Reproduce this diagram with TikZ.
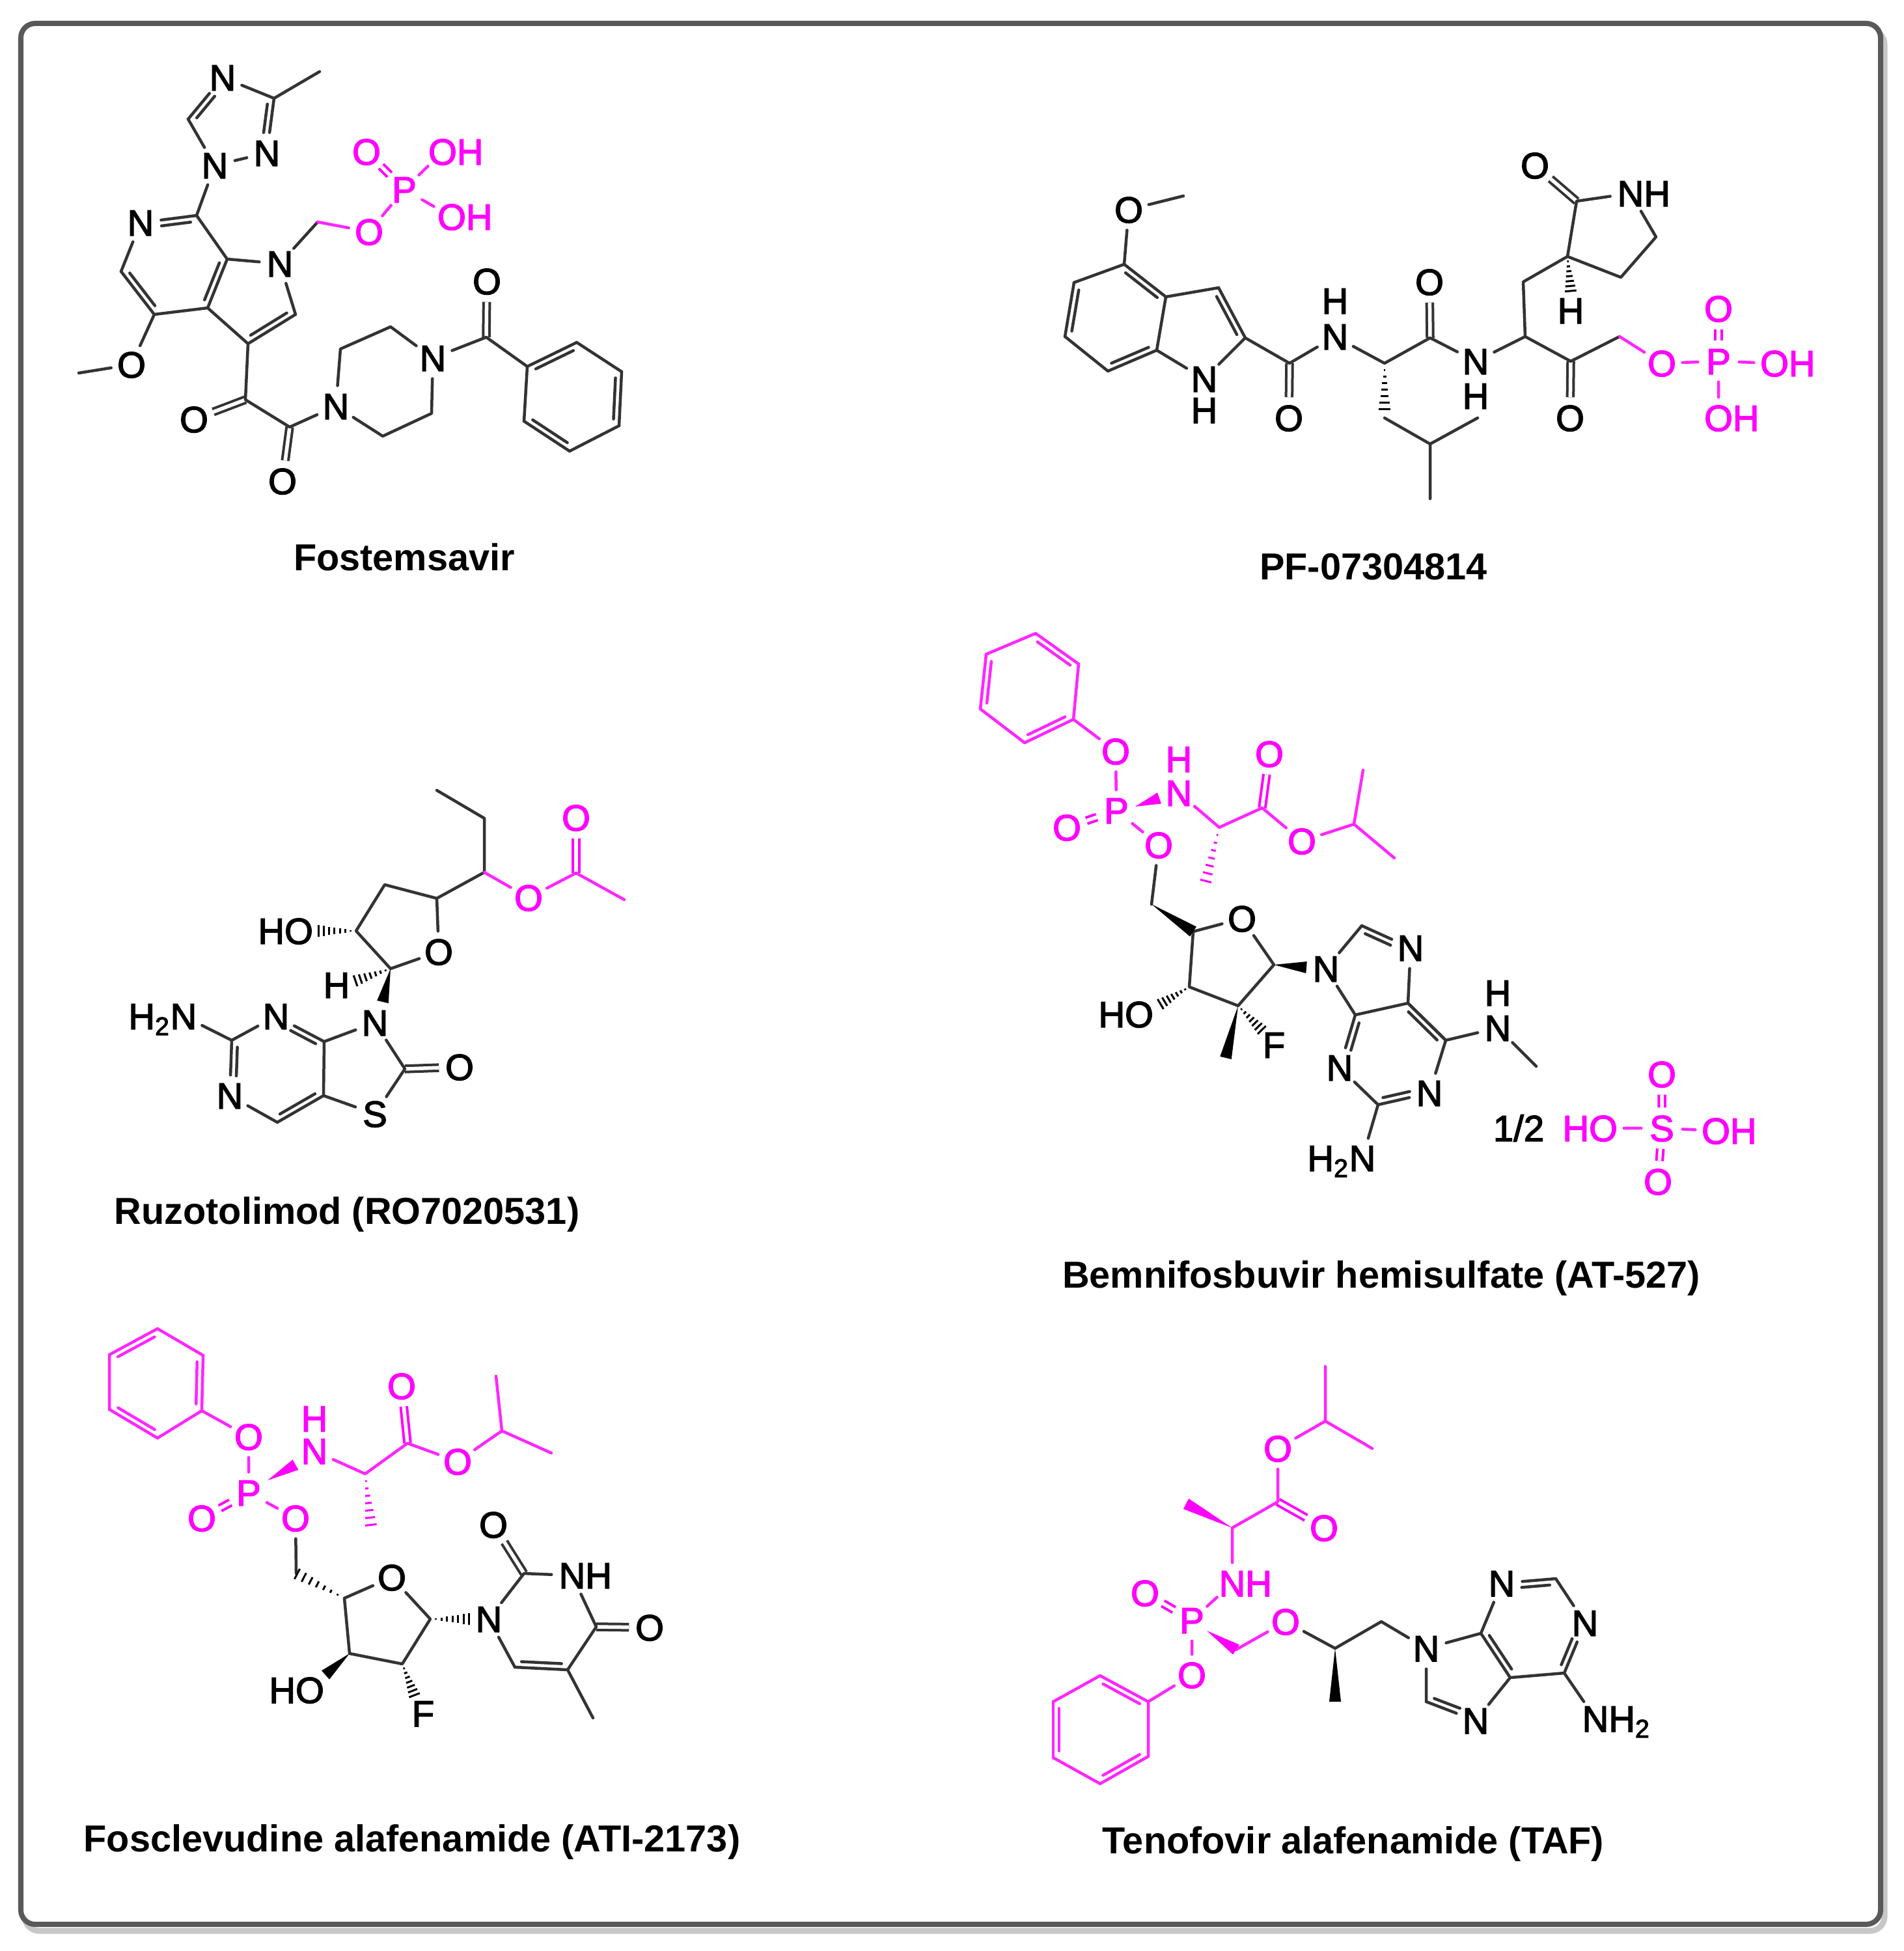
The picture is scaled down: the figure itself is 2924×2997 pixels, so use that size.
\documentclass[tikz,border=0pt]{standalone}
\usepackage{fontspec}
\setmainfont{Liberation Sans}
\newfontfamily\atomfam[FakeBold=2.5]{Liberation Sans}
\usetikzlibrary{calc}
\definecolor{mg}{HTML}{FF00FF}
\newcommand{\rdb}[5][bond]{\draw[#1] (#2)--(#3);
  \draw[#1] ($(#2)!#4!(#3)!.09cm!90:(#3)$)--($(#3)!#5!(#2)!-.09cm!90:(#2)$);}
\newcommand{\solidw}[3][black]{\fill[#1] (#2)--($(#3)!.09cm!90:(#2)$)--($(#3)!.09cm!-90:(#2)$)--cycle;}
\newcommand{\hashw}[3][black]{\foreach \hh in {.14,.28,...,1.01}
  \draw[#1,line width=.03cm] ($(#2)!\hh!(#3)!\hh*.09cm!90:(#2)$)--($(#2)!\hh!(#3)!\hh*.09cm!-90:(#2)$);}
\tikzset{
  atom/.style={circle,inner sep=0pt,minimum size=.62cm,text height=.40cm,text depth=0pt,font=\fontsize{16}{18}\selectfont\atomfam},
  patom/.style={atom,text=mg},
  bond/.style={line width=.045cm,draw=black!80,line cap=round,line join=round},
  pbond/.style={bond,draw=mg!85!white},
  dbl/.style={bond,double,double distance=.055cm,line width=.04cm,line cap=butt},
  pdbl/.style={dbl,draw=mg},
  caption/.style={font=\fontsize{16.4}{18}\selectfont\bfseries}
}
\begin{document}
\begin{tikzpicture}[x=.01cm,y=-.01cm]
\useasboundingbox (0,0) rectangle (2924,2997);
\fill[white] (0,0) rectangle (2924,2997);
\draw[black!22,line width=.09cm,rounded corners=.22cm] (38,46) rectangle (2895,2966);
\draw[black!65,line width=.08cm,fill=white,rounded corners=.22cm] (32,36) rectangle (2889,2956);

% Fostemsavir
\path (421,151) coordinate (ftc) (491,110) coordinate (ftm) (289,183) coordinate (fth)
 (302,331) coordinate (fc7) (186,417) coordinate (fc6) (237,483) coordinate (fc4) (319,473) coordinate (fc3a)
 (349,398) coordinate (fc7a) (454,483) coordinate (fc2) (381,528) coordinate (fc3) (121,573) coordinate (fme)
 (377,614) coordinate (fk1) (445,656) coordinate (fk2) (523,536) coordinate (fpz1) (600,502) coordinate (fpz2)
 (663,635) coordinate (fpz3) (588,670) coordinate (fpz4) (747,518) coordinate (fk3) (488,341) coordinate (fch)
 (810,563) coordinate (fp1) (886,526) coordinate (fp2) (955,571) coordinate (fp3) (951,654) coordinate (fp4)
 (875,693) coordinate (fp5) (805,647) coordinate (fp6);
\path (342,119) node[atom] (ftn4) {N} (410,235) node[atom] (ftn2) {N} (330,254) node[atom] (ftn1) {N}
 (216,342) node[atom] (fnp) {N} (430,405) node[atom] (fn1) {N} (202,560) node[atom] (fom) {O}
 (298,644) node[atom] (fo1) {O} (434,739) node[atom] (fo2) {O} (516,624) node[atom] (fn2) {N}
 (665,550) node[atom] (fn3) {N} (748,432) node[atom] (fo3) {O};
\path (567,356) node[patom] (foc) {O} (621,291) node[patom] (fpp) {P} (563,233) node[patom] (fod) {O}
 (680,233) node[patom] (foh1) {O\rlap{H}} (694,333) node[patom] (foh2) {O\rlap{H}};
\draw[dbl] (fk1)--(fo1) (fk2)--(fo2) (fk3)--(fo3);
\draw[pdbl] (fpp)--(fod);
\draw[bond] (ftm)--(ftc)--(ftn4) (fth)--(ftn1)--(ftn2) (ftn1)--(fc7)--(fc7a)--(fn1)--(fc2) (fc6)--(fnp) (fc4)--(fc3a)--(fc3)
 (fc4)--(fom)--(fme) (fc3)--(fk1)--(fk2)--(fn2)--(fpz1)--(fpz2)--(fn3)--(fpz3)--(fpz4)--(fn2) (fn3)--(fk3)--(fp1)
 (fp1)--(fp6) (fp5)--(fp4) (fp3)--(fp2) (fn1)--(fch);
\draw[pbond] (fch)--(foc)--(fpp)--(foh1) (fpp)--(foh2);
\rdb{ftn4}{fth}{.36}{.12} \rdb{ftn2}{ftc}{.36}{.12} \rdb{fc7}{fnp}{.12}{.36} \rdb{fc6}{fc4}{.12}{.12}
\rdb{fc3a}{fc7a}{.12}{.12} \rdb{fc3}{fc2}{.12}{.12} \rdb{fp2}{fp1}{.12}{.12} \rdb{fp6}{fp5}{.12}{.12} \rdb{fp4}{fp3}{.12}{.12}
\node[caption] (fname) at (621,856) {Fostemsavir};

% PF-07304814
\path (1818,301) coordinate (gme) (1727,406) coordinate (gc4) (1650,434) coordinate (gc5) (1636,517) coordinate (gc6)
 (1702,570) coordinate (gc7) (1777,538) coordinate (gc7a) (1791,456) coordinate (gc3a) (1872,442) coordinate (gc3)
 (1913,519) coordinate (gc2) (1981,558) coordinate (gk1) (2127,558) coordinate (gca) (2197,519) coordinate (gk2)
 (2343,517) coordinate (gcb) (2340,433) coordinate (gch) (2408,394) coordinate (gl3) (2422,309) coordinate (gl2)
 (2544,364) coordinate (gl5) (2490,426) coordinate (gl4) (2413,555) coordinate (gk3) (2488,517) coordinate (gcc)
 (2127,642) coordinate (gib) (2197,682) coordinate (gic) (2270,642) coordinate (gim1) (2197,766) coordinate (gim2)
 (2127,630) coordinate (ghe1) (2413,448) coordinate (ghe2);
\path (1734,322) node[atom] (gom) {O} (1850,582) node[atom] (gni) {N} (1850,630) node[atom] (gnih) {H}
 (1980,642) node[atom] (go1) {O} (2051,517) node[atom] (gn1) {N} (2051,462) node[atom] (gn1h) {H}
 (2196,433) node[atom] (go2) {O} (2267,555) node[atom] (gn2) {N} (2267,608) node[atom] (gn2h) {H}
 (2358,254) node[atom] (glo) {O} (2505,297) node[atom] (gln) {N\rlap{H}} (2413,477) node[atom] (ghh) {H}
 (2412,642) node[atom] (go3) {O};
\path (2553,558) node[patom] (goc) {O} (2640,555) node[patom] (gpp) {P} (2640,474) node[patom] (god) {O}
 (2726,558) node[patom] (goh1) {O\rlap{H}} (2640,642) node[patom] (goh2) {O\rlap{H}};
\draw[dbl] (gk1)--(go1) (gk2)--(go2) (gl2)--(glo) (gk3)--(go3);
\draw[pdbl] (gpp)--(god);
\draw[bond] (gme)--(gom)--(gc4) (gc4)--(gc5) (gc6)--(gc7) (gc7a)--(gc3a) (gc3a)--(gc3) (gc7a)--(gni)--(gc2) (gc2)--(gk1)--(gn1)--(gca)--(gk2)--(gn2)--(gcb)--(gch)--(gl3)--(gl2)--(gln)--(gl5)--(gl4)--(gl3)
 (gcb)--(gk3)--(gcc) (gib)--(gic)--(gim1) (gic)--(gim2);
\draw[pbond] (gcc)--(goc)--(gpp)--(goh1) (gpp)--(goh2);
\rdb{gc3a}{gc4}{.12}{.12} \rdb{gc5}{gc6}{.12}{.12} \rdb{gc7}{gc7a}{.12}{.12} \rdb{gc2}{gc3}{.12}{.12}
\hashw{gca}{ghe1} \hashw{gl3}{ghe2}
\node[caption] (gname) at (2110,871) {PF-07304814};

% Ruzotolimod
\path (671,1214) coordinate (rme) (744,1257) coordinate (rch) (744,1340) coordinate (rcx) (671,1380) coordinate (rs5)
 (591,1359) coordinate (rs4) (547,1430) coordinate (rs3) (600,1488) coordinate (rs1) (885,1341) coordinate (rk)
 (959,1382) coordinate (rkm) (356,1598) coordinate (rc2) (426,1724) coordinate (rc4) (497,1683) coordinate (rc7a)
 (498,1600) coordinate (rc3a) (622,1642) coordinate (rk2) (488,1430) coordinate (rhe1) (545,1507) coordinate (rhe2)
 (588,1539) coordinate (rwe);
\path (459,1430) node[atom] (roh) {\llap{H}O} (674,1462) node[atom] (ros) {O} (517,1513) node[atom] (rhh) {H}
 (576,1571) node[atom] (rn3) {N} (424,1561) node[atom] (rn1) {N} (282,1561) node[atom] (rnh) {\llap{H\textsubscript{2}}N}
 (353,1683) node[atom] (rn2) {N} (576,1711) node[atom] (rss) {S} (706,1639) node[atom] (ro2) {O};
\path (812,1379) node[patom] (roa) {O} (885,1256) node[patom] (rod) {O};
\draw[dbl] (rk2)--(ro2);
\draw[pdbl] (rk)--(rod);
\draw[bond] (rme)--(rch)--(rcx)--(rs5)--(rs4)--(rs3)--(rs1)--(ros)--(rs5) (rnh)--(rc2)--(rn1) (rn2)--(rc4) (rc7a)--(rc3a) (rc3a)--(rn3)--(rk2)--(rss)--(rc7a);
\draw[pbond] (rcx)--(roa)--(rk)--(rkm);
\rdb{rc3a}{rn1}{.12}{.36} \rdb{rc2}{rn2}{.12}{.36} \rdb{rc4}{rc7a}{.12}{.12}
\hashw{rs3}{rhe1} \hashw{rs1}{rhe2} \solidw{rs1}{rwe}
\node[caption] (rname) at (533,1866) {Ruzotolimod (RO7020531)};

% Bemnifosbuvir hemisulfate
\path (1591,973) coordinate (bp1) (1657,1020) coordinate (bp2) (1649,1105) coordinate (bp3) (1574,1141) coordinate (bp4)
 (1506,1089) coordinate (bp5) (1515,1005) coordinate (bp6) (1873,1271) coordinate (bca) (1939,1241) coordinate (bk)
 (2080,1266) coordinate (bip) (2094,1183) coordinate (bim1) (2142,1318) coordinate (bim2) (1852,1355) coordinate (bhe1)
 (1744,1239) coordinate (bwe1) (1781,1226) coordinate (bwe2) (1769,1389) coordinate (bch) (1833,1431) coordinate (bs4)
 (1957,1482) coordinate (bs1) (1902,1545) coordinate (bs2) (1827,1516) coordinate (bs3) (1782,1543) coordinate (bhe2)
 (1939,1583) coordinate (bhe3) (1883,1625) coordinate (bme) (2007,1486) coordinate (bwe3) (2092,1422) coordinate (bc8)
 (2163,1541) coordinate (bc5) (2082,1559) coordinate (bc4) (2117,1697) coordinate (bc2) (2221,1598) coordinate (bc6)
 (2360,1638) coordinate (bnm);
\path (1908,1411) node[atom] (bos) {O} (1750,1558) node[atom] (boh) {\llap{H}O} (1957,1605) node[atom] (bff) {F}
 (2037,1488) node[atom] (bn9) {N} (2167,1456) node[atom] (bn7) {N} (2058,1640) node[atom] (bn3) {N}
 (2196,1679) node[atom] (bn1) {N} (2301,1579) node[atom] (bnh) {N} (2301,1525) node[atom] (bnhh) {H}
 (2093,1779) node[atom] (bnt) {\llap{H\textsubscript{2}}N} (2333,1733) node[atom] (bhalf) {1/2};
\path (1714,1154) node[patom] (bop) {O} (1715,1245) node[patom] (bpp) {P} (1639,1271) node[patom] (bod) {O}
 (1811,1218) node[patom] (bnn) {N} (1811,1166) node[patom] (bnnh) {H} (1950,1158) node[patom] (bok) {O}
 (2000,1292) node[patom] (boe) {O} (1780,1298) node[patom] (boc) {O} (2463,1733) node[patom] (bsh1) {\llap{H}O}
 (2553,1733) node[patom] (bss) {S} (2636,1737) node[patom] (bsh2) {O\rlap{H}} (2553,1650) node[patom] (bso1) {O}
 (2547,1815) node[patom] (bso2) {O};
\draw[pdbl] (bpp)--(bod) (bk)--(bok) (bss)--(bso1) (bss)--(bso2);
\draw[pbond] (bp1)--(bp6) (bp5)--(bp4) (bp3)--(bp2) (bp3)--(bop)--(bpp)--(boc) (bnn)--(bca)--(bk)--(boe)--(bip)--(bim1) (bip)--(bim2)
 (bsh1)--(bss)--(bsh2);
\draw[bond] (boc)--(bch) (bs4)--(bos)--(bs1)--(bs2)--(bs3)--(bs4) (bn9)--(bc8) (bn7)--(bc5) (bn9)--(bc4) (bc5)--(bc6)
 (bc4)--(bc5) (bn3)--(bc2) (bn1)--(bc6)--(bnh)--(bnm) (bc2)--(bnt);
\rdb[pbond]{bp6}{bp5}{.12}{.12} \rdb[pbond]{bp4}{bp3}{.12}{.12} \rdb[pbond]{bp2}{bp1}{.12}{.12}
\rdb{bn7}{bc8}{.36}{.12} \rdb{bc4}{bn3}{.12}{.36} \rdb{bc2}{bn1}{.12}{.36} \rdb{bc6}{bc5}{.12}{.12}
\solidw[mg]{bwe1}{bwe2} \hashw[mg]{bca}{bhe1} \solidw{bch}{bs4} \solidw{bs1}{bwe3} \hashw{bs3}{bhe2} \hashw{bs2}{bhe3} \solidw{bs2}{bme}
\node[caption] (bname) at (2122,1964) {Bemnifosbuvir hemisulfate (AT-527)};

% Fosclevudine alafenamide
\path (242,2041) coordinate (cp1) (312,2082) coordinate (cp2) (310,2167) coordinate (cp3) (242,2209) coordinate (cp4)
 (168,2165) coordinate (cp5) (168,2081) coordinate (cp6) (561,2264) coordinate (cca) (626,2217) coordinate (ck)
 (771,2198) coordinate (cip) (762,2114) coordinate (cim1) (847,2232) coordinate (cim2) (570,2344) coordinate (che1)
 (411,2274) coordinate (cwe1) (454,2250) coordinate (cwe2) (455,2417) coordinate (cch) (529,2455) coordinate (cs4)
 (661,2487) coordinate (cs1) (618,2556) coordinate (cs2) (537,2540) coordinate (cs3) (500,2573) coordinate (cwe3)
 (637,2605) coordinate (che2) (722,2487) coordinate (che3) (805,2417) coordinate (cc2) (916,2499) coordinate (cc4)
 (872,2565) coordinate (cc5) (791,2561) coordinate (cc6) (911,2639) coordinate (cme);
\path (602,2423) node[atom] (cos) {O} (476,2596) node[atom] (coh) {\llap{H}O} (650,2632) node[atom] (cff) {F}
 (751,2487) node[atom] (cn1) {N} (758,2342) node[atom] (co2) {O} (879,2420) node[atom] (cn3) {N\rlap{H}}
 (998,2500) node[atom] (co4) {O};
\path (382,2207) node[patom] (cop) {O} (382,2293) node[patom] (cpp) {P} (310,2332) node[patom] (cod) {O}
 (454,2332) node[patom] (coc) {O} (483,2229) node[patom] (cnn) {N} (483,2179) node[patom] (cnnh) {H}
 (617,2129) node[patom] (cok) {O} (703,2245) node[patom] (coe) {O};
\draw[pdbl] (cpp)--(cod) (ck)--(cok);
\draw[dbl] (cc2)--(co2) (cc4)--(co4);
\draw[pbond] (cp1)--(cp2) (cp3)--(cp4) (cp5)--(cp6) (cp3)--(cop)--(cpp)--(coc) (cnn)--(cca)--(ck)--(coe)--(cip)--(cim1) (cip)--(cim2);
\draw[bond] (coc)--(cch) (cs4)--(cos)--(cs1)--(cs2)--(cs3)--(cs4) (cn1)--(cc2)--(cn3)--(cc4)--(cc5)--(cme) (cc6)--(cn1);
\rdb[pbond]{cp1}{cp6}{.12}{.12} \rdb[pbond]{cp5}{cp4}{.12}{.12} \rdb[pbond]{cp3}{cp2}{.12}{.12}
\rdb{cc6}{cc5}{.12}{.12}
\solidw[mg]{cwe1}{cwe2} \hashw[mg]{cca}{che1} \hashw{cs4}{cch} \solidw{cs3}{cwe3} \hashw{cs2}{che2} \hashw{cs1}{che3}
\node[caption] (cname) at (633,2830) {Fosclevudine alafenamide (ATI-2173)};

% Tenofovir alafenamide
\path (2036,2099) coordinate (tim1) (2036,2183) coordinate (tip) (2108,2225) coordinate (tim2) (1963,2307) coordinate (tk)
 (1893,2347) coordinate (tca) (1822,2310) coordinate (tme) (1764,2614) coordinate (tp1) (1690,2574) coordinate (tp2)
 (1618,2614) coordinate (tp3) (1618,2700) coordinate (tp4) (1690,2740) coordinate (tp5) (1764,2698) coordinate (tp6)
 (1854,2505) coordinate (twe1) (1899,2534) coordinate (tch) (2051,2532) coordinate (tcx) (2051,2614) coordinate (tme2)
 (2122,2491) coordinate (tcy) (2191,2614) coordinate (tc8) (2320,2577) coordinate (tc5) (2275,2509) coordinate (tc4)
 (2390,2425) coordinate (tc2) (2403,2570) coordinate (tc6);
\path (1963,2225) node[patom] (toe) {O} (2034,2347) node[patom] (tok) {O} (1893,2432) node[patom] (tnn) {N\rlap{H}}
 (1831,2489) node[patom] (tpp) {P} (1759,2447) node[patom] (tod) {O} (1831,2573) node[patom] (top) {O}
 (1975,2491) node[patom] (toc) {O};
\path (2191,2532) node[atom] (tn9) {N} (2267,2643) node[atom] (tn7) {N} (2307,2432) node[atom] (tn3) {N}
 (2435,2493) node[atom] (tn1) {N} (2451,2640) node[atom] (tnt) {N\rlap{H\textsubscript{2}}};
\draw[pdbl] (tk)--(tok) (tpp)--(tod);
\draw[pbond] (tim1)--(tip)--(tim2) (tip)--(toe)--(tk)--(tca)--(tnn)--(tpp)--(top)--(tp1) (tp2)--(tp3) (tp4)--(tp5) (tp6)--(tp1) (tch)--(toc);
\draw[bond] (toc)--(tcx)--(tcy)--(tn9)--(tc8) (tn7)--(tc5) (tc4)--(tn9) (tc4)--(tn3) (tc2)--(tn1) (tc6)--(tc5) (tc6)--(tnt);
\rdb[pbond]{tp1}{tp2}{.12}{.12} \rdb[pbond]{tp3}{tp4}{.12}{.12} \rdb[pbond]{tp5}{tp6}{.12}{.12}
\rdb{tc8}{tn7}{.12}{.36} \rdb{tc4}{tc5}{.12}{.12} \rdb{tc6}{tn1}{.12}{.36} \rdb{tc2}{tn3}{.12}{.36}
\solidw[mg]{tca}{tme} \solidw[mg]{twe1}{tch} \solidw{tcx}{tme2}
\node[caption] (tname) at (2079,2833) {Tenofovir alafenamide (TAF)};
\end{tikzpicture}
\end{document}
